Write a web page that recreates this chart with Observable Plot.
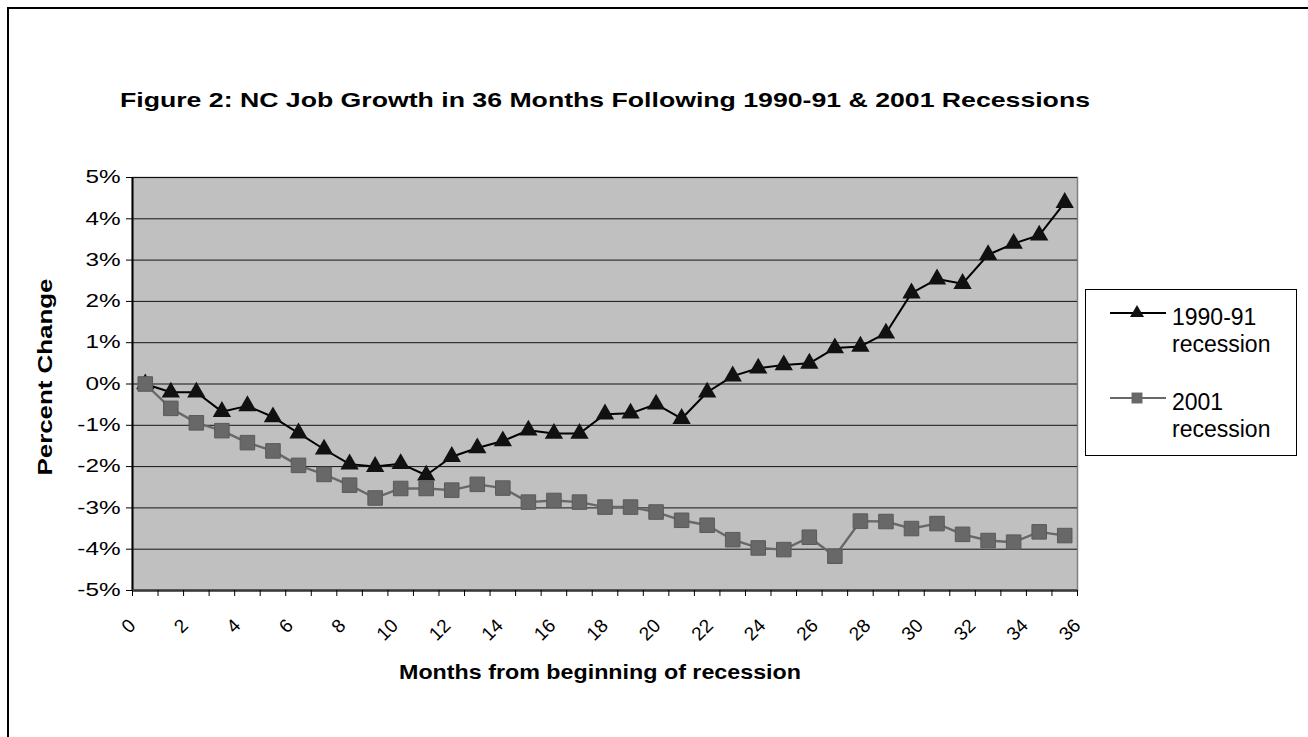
<!DOCTYPE html>
<html><head><meta charset="utf-8">
<script src="https://cdn.jsdelivr.net/npm/d3@7"></script>
<script src="https://cdn.jsdelivr.net/npm/@observablehq/plot@0.6"></script>
<style>
html,body{margin:0;padding:0;background:#fff;overflow:hidden;width:1308px;height:737px;}
#wrap{position:relative;width:1308px;height:737px;overflow:hidden;font-family:"Liberation Sans",Arial,sans-serif;}
#border{position:absolute;left:7px;top:7px;width:2000px;height:2000px;border-left:2px solid #000;border-top:2px solid #000;}
#chart{position:absolute;left:0;top:0;}
#legend{position:absolute;left:1085px;top:289px;width:210px;height:165px;border:1px solid #000;background:#fff;}
</style></head><body>
<div id="wrap"><div id="border"></div><div id="chart"></div><div id="legend"></div></div>
<script>
const titleText = "Figure 2: NC Job Growth in 36 Months Following 1990-91 & 2001 Recessions";
const xTitle = "Months from beginning of recession";
const yTitle = "Percent Change";
const seriesNames = ["1990-91 recession", "2001 recession"];
const months = [0,1,2,3,4,5,6,7,8,9,10,11,12,13,14,15,16,17,18,19,20,21,22,23,24,25,26,27,28,29,30,31,32,33,34,35,36];
const rec1990 = [0,-0.2,-0.2,-0.67,-0.53,-0.8,-1.19,-1.58,-1.94,-2.0,-1.93,-2.21,-1.76,-1.55,-1.38,-1.12,-1.2,-1.2,-0.73,-0.71,-0.49,-0.84,-0.2,0.19,0.38,0.46,0.5,0.87,0.91,1.23,2.2,2.54,2.43,3.13,3.4,3.6,4.39];
const rec2001 = [0,-0.59,-0.94,-1.13,-1.42,-1.62,-1.97,-2.19,-2.45,-2.76,-2.53,-2.53,-2.57,-2.43,-2.52,-2.86,-2.82,-2.86,-2.98,-2.98,-3.1,-3.3,-3.42,-3.77,-3.97,-4.01,-3.71,-4.17,-3.32,-3.33,-3.5,-3.38,-3.64,-3.79,-3.83,-3.58,-3.67];
const yTicks = [-5,-4,-3,-2,-1,0,1,2,3,4,5];
const xTickLabels = [0,2,4,6,8,10,12,14,16,18,20,22,24,26,28,30,32,34,36];

const d1 = months.map((m,i)=>({month:m, value:rec1990[i]}));
const d2 = months.map((m,i)=>({month:m, value:rec2001[i]}));
const boundaries = months.map(m=>m-0.5).concat([months[months.length-1]+0.5]);
const xDomain = [boundaries[0], boundaries[boundaries.length-1]];
const span = xDomain[1]-xDomain[0];
const last = months[months.length-1];

const bold = {fontSize:21, fontWeight:"bold", fill:"#000", lineAnchor:"middle", textAnchor:"middle"};
const chart = Plot.plot({
  width:1308, height:737,
  marginLeft:132, marginRight:231, marginTop:177, marginBottom:147,
  style:{fontFamily:'"Liberation Sans", Arial, sans-serif', background:"transparent", color:"#000", overflow:"visible"},
  x:{type:"linear", domain:xDomain, axis:null},
  y:{domain:[-5,5], axis:null},
  marks:[
    Plot.frame({fill:"#c0c0c0", stroke:"#808080", strokeWidth:1.5}),
    Plot.gridY(yTicks, {stroke:"#000", strokeOpacity:0.9, strokeWidth:1}),
    Plot.ruleX([xDomain[0]], {stroke:"#000", strokeWidth:2}),
    Plot.ruleY([-5], {stroke:"#3a3a3a", strokeWidth:2.5}),
    Plot.axisY(yTicks, {tickSize:6, tickPadding:6, tickFormat:d=>`${d}%`, fontSize:18, label:null}),
    Plot.axisX(boundaries, {tickSize:6, tickFormat:()=>"", label:null}),
    Plot.text(xTickLabels, {x:d=>xDomain[0]+d*span/last, frameAnchor:"bottom", dy:32, rotate:-45, textAnchor:"end", lineAnchor:"middle", fontSize:19, fill:"#000"}),
    Plot.text([titleText], {frameAnchor:"top", dy:-77, ...bold}),
    Plot.text([xTitle], {frameAnchor:"bottom", dy:82, dx:-5, ...bold}),
    Plot.text([yTitle], {frameAnchor:"left", dx:-87, dy:-7, rotate:-90, ...bold}),
    Plot.line(d1, {x:"month", y:"value", stroke:"#000", strokeWidth:2}),
    Plot.dot(d1, {x:"month", y:"value", symbol:"triangle", r:6.8, fill:"#111", stroke:"none"}),
    Plot.line(d2, {x:"month", y:"value", stroke:"#686868", strokeWidth:2.4}),
    Plot.dot(d2, {x:"month", y:"value", symbol:"square", r:8.2, fill:"#686868", stroke:"#5a5a5a", strokeWidth:1})
  ]
});
document.getElementById("chart").appendChild(chart);

// Stretch texts horizontally to match the reference proportions
const targets = {};
targets[titleText] = 970; targets[xTitle] = 402; targets[yTitle] = 197;
chart.querySelectorAll("text").forEach(t=>{
  const s = t.textContent;
  if (targets[s]) {
    t.setAttribute("textLength", targets[s]);
    t.setAttribute("lengthAdjust", "spacingAndGlyphs");
  }
});
chart.querySelectorAll('g[aria-label="y-axis tick label"] text').forEach(t=>{
  t.textContent = t.textContent.replace("\u2212", "-");
  const L = t.getComputedTextLength();
  t.setAttribute("textLength", (L*1.35).toFixed(1));
  t.setAttribute("lengthAdjust", "spacingAndGlyphs");
});

// Legend
const leg = d3.select("#legend").append("svg").attr("width",210).attr("height",165)
  .style("font-family",'"Liberation Sans", Arial, sans-serif').style("font-size","23px");
const items = [
  {name:seriesNames[0], y:23, color:"#000", sym:d3.symbolTriangle, fill:"#111", size:85},
  {name:seriesNames[1], y:108, color:"#686868", sym:d3.symbolSquare, fill:"#686868", size:120}
];
items.forEach(it=>{
  leg.append("line").attr("x1",24).attr("x2",80).attr("y1",it.y).attr("y2",it.y).attr("stroke",it.color).attr("stroke-width",2);
  leg.append("path").attr("d",d3.symbol(it.sym,it.size)()).attr("transform",`translate(51,${it.y})`).attr("fill",it.fill);
  const words = it.name.split(" ");
  const tx = leg.append("text").attr("x",86).attr("y",it.y+12).attr("fill","#000");
  tx.append("tspan").attr("x",86).text(words[0]);
  tx.append("tspan").attr("x",86).attr("dy",26.5).text(words.slice(1).join(" "));
});
</script>
</body></html>
